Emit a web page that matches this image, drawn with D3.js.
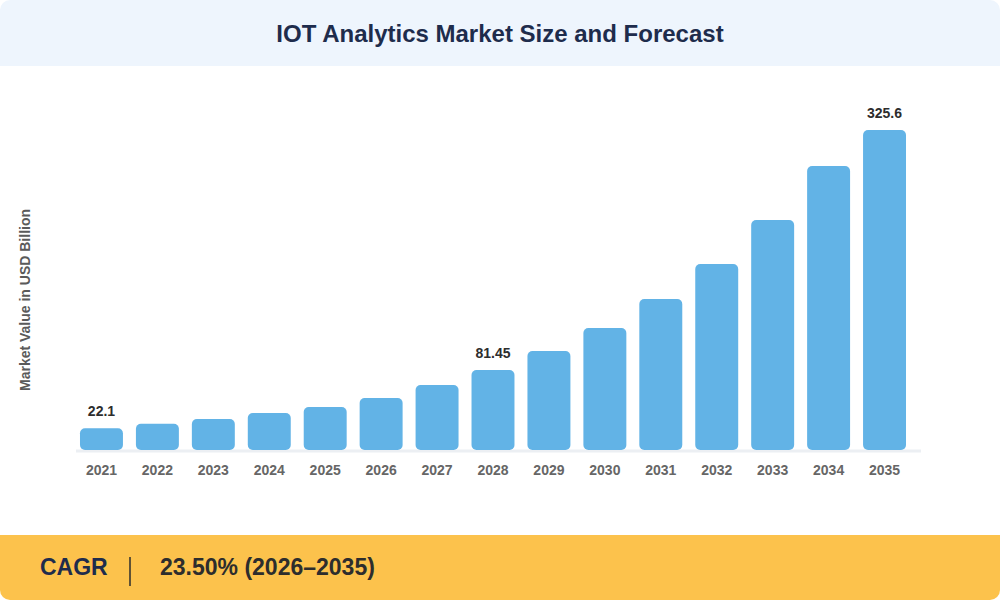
<!DOCTYPE html>
<html>
<head>
<meta charset="utf-8">
<script src="https://cdn.jsdelivr.net/npm/d3@7"></script>
<style>
  body { margin: 0; background: #ffffff; }
  svg { display: block; font-family: "Liberation Sans", Arial, sans-serif; }
</style>
</head>
<body>
<div id="chart"></div>
<script>
var years = ["2021", "2022", "2023", "2024", "2025", "2026", "2027", "2028",
    "2029", "2030", "2031", "2032", "2033", "2034", "2035"];
var values = [22.1, 26.8, 31.5, 37.6, 43.7, 52.9, 66.1, 81.45,
    100.7, 124.1, 153.6, 189.2, 234.0, 288.9, 325.6];
var shownLabels = ["2021", "2028", "2035"];
var labelText = ["22.1", "81.45", "325.6"];

var width = 1000;
var height = 600;

var svg = d3.select("#chart")
    .append("svg")
    .attr("width", width)
    .attr("height", height);

var clip = svg.append("defs").append("clipPath").attr("id", "card");
clip.append("rect")
    .attr("width", width)
    .attr("height", height)
    .attr("rx", 10);

var card = svg.append("g").attr("clip-path", "url(#card)");

card.append("rect")
    .attr("width", width)
    .attr("height", height)
    .attr("fill", "#ffffff");

// header band
card.append("rect")
    .attr("width", width)
    .attr("height", 66)
    .attr("fill", "#eef5fd");

card.append("text")
    .attr("x", width / 2)
    .attr("y", 42)
    .attr("text-anchor", "middle")
    .attr("font-size", 24)
    .attr("font-weight", "bold")
    .attr("fill", "#1e2c4c")
    .text("IOT Analytics Market Size and Forecast");

// scales
var xScale = d3.scaleBand()
    .domain(years)
    .range([73, 913])
    .paddingInner(0.232)
    .paddingOuter(0.125);

var yScale = d3.scaleLinear()
    .domain([0, 325.6])
    .range([450, 130]);

// baseline
card.append("line")
    .attr("x1", 76)
    .attr("x2", 921)
    .attr("y1", 451)
    .attr("y2", 451)
    .attr("stroke", "#eceff3")
    .attr("stroke-width", 3);

card.selectAll(".bar")
    .data(values)
    .enter()
    .append("rect")
    .attr("class", "bar")
    .attr("x", function(d, i) { return xScale(years[i]); })
    .attr("width", xScale.bandwidth())
    .attr("y", function(d) { return yScale(d); })
    .attr("height", function(d) { return yScale(0) - yScale(d); })
    .attr("rx", 5)
    .attr("fill", "#62b3e6");

// x axis labels
var xAxis = d3.axisBottom(xScale).tickSize(0).tickPadding(0);
var xg = card.append("g")
    .attr("transform", "translate(0,465)")
    .call(xAxis);
xg.select(".domain").remove();
xg.selectAll("text")
    .attr("dy", "0.71em")
    .attr("font-size", 14)
    .attr("font-weight", "bold")
    .attr("font-family", "Liberation Sans, Arial, sans-serif")
    .attr("fill", "#666666");

// value labels
card.selectAll(".vLabel")
    .data(shownLabels)
    .enter()
    .append("text")
    .attr("class", "vLabel")
    .attr("x", function(d) { return xScale(d) + xScale.bandwidth() / 2; })
    .attr("y", function(d) { return yScale(values[years.indexOf(d)]) - 12; })
    .attr("text-anchor", "middle")
    .attr("font-size", 14)
    .attr("font-weight", "bold")
    .attr("fill", "#2d2d2d")
    .text(function(d, i) { return labelText[i]; });

// y axis title
card.append("text")
    .attr("transform", "translate(30,300)rotate(-90)")
    .attr("text-anchor", "middle")
    .attr("font-size", 14)
    .attr("font-weight", "bold")
    .attr("fill", "#5a5a5a")
    .text("Market Value in USD Billion");

// footer
card.append("rect")
    .attr("y", 535)
    .attr("width", width)
    .attr("height", 65)
    .attr("fill", "#fcc24c");

card.append("text")
    .attr("x", 40)
    .attr("y", 575)
    .attr("font-size", 23)
    .attr("font-weight", "bold")
    .attr("fill", "#1e2c4c")
    .text("CAGR");

card.append("line")
    .attr("x1", 130)
    .attr("x2", 130)
    .attr("y1", 557)
    .attr("y2", 586)
    .attr("stroke", "#2d2d2d")
    .attr("stroke-width", 1.5);

card.append("text")
    .attr("x", 160)
    .attr("y", 575)
    .attr("font-size", 23)
    .attr("font-weight", "bold")
    .attr("fill", "#2d2d2d")
    .text("23.50% (2026–2035)");
</script>
</body>
</html>
